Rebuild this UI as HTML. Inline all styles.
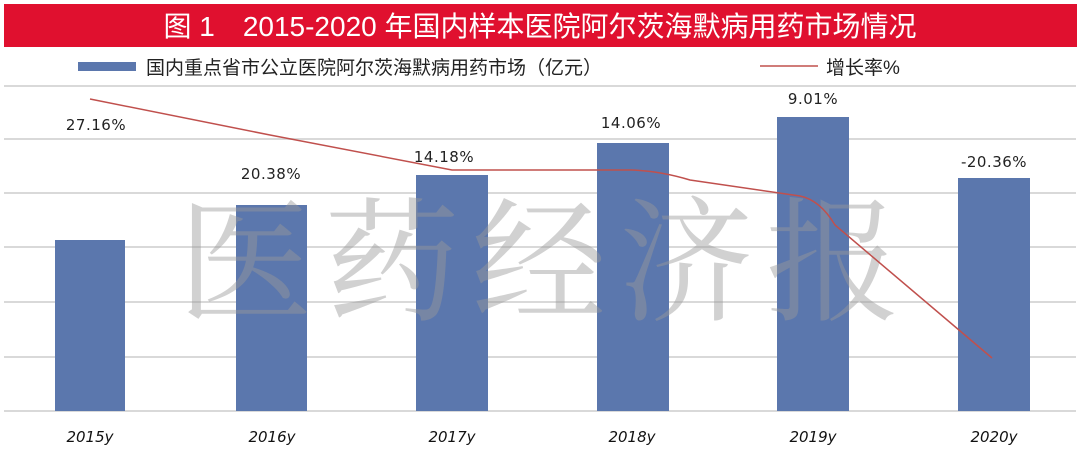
<!DOCTYPE html>
<html><head><meta charset="utf-8"><style>
body{margin:0;background:#fff;width:1080px;height:462px;overflow:hidden;}
</style></head><body>
<svg width="1080" height="462" viewBox="0 0 1080 462" xmlns="http://www.w3.org/2000/svg">
<rect x="4" y="4" width="1073" height="43" fill="#e0102f"/>
<text x="540" y="36" text-anchor="middle" fill="#fff" font-size="28" font-family="Liberation Sans, Noto Sans CJK SC, sans-serif">图 1　2015-2020 年国内样本医院阿尔茨海默病用药市场情况</text>
<rect x="78" y="62" width="58" height="9" fill="#5b77ad"/>
<text x="146" y="74" font-size="19" fill="#222" font-family="Liberation Sans, Noto Sans CJK SC, sans-serif">国内重点省市公立医院阿尔茨海默病用药市场（亿元）</text>
<line x1="760" y1="66" x2="818" y2="66" stroke="#c0504d" stroke-width="1.5"/>
<text x="826" y="74" font-size="19" fill="#222" font-family="Liberation Sans, Noto Sans CJK SC, sans-serif">增长率%</text>
<g stroke="#d9d9d9" stroke-width="2">
<line x1="4" y1="86" x2="1076" y2="86"/>
<line x1="4" y1="139" x2="1076" y2="139"/>
<line x1="4" y1="193" x2="1076" y2="193"/>
<line x1="4" y1="247" x2="1076" y2="247"/>
<line x1="4" y1="302" x2="1076" y2="302"/>
<line x1="4" y1="357" x2="1076" y2="357"/>
<line x1="4" y1="411" x2="1076" y2="411"/>
</g>
<g fill="#5b77ad">
<rect x="55" y="240" width="70" height="171"/>
<rect x="236" y="205" width="71" height="206"/>
<rect x="416" y="175" width="72" height="236"/>
<rect x="597" y="143" width="72" height="268"/>
<rect x="777" y="117" width="72" height="294"/>
<rect x="958" y="178" width="72" height="233"/>
</g>
<text x="545" y="310" text-anchor="middle" font-size="135" fill="#999" fill-opacity="0.45" font-family="Noto Serif CJK SC, serif" letter-spacing="12">医药经济报</text>
<path d="M90,99 L270,135 L452,170 L632,170 Q660,171 690,180 L800,196 Q820,200 835,225 L992,358" fill="none" stroke="#c0504d" stroke-width="1.5"/>
<g font-size="15" fill="#222" font-family="DejaVu Sans, sans-serif" text-anchor="middle" letter-spacing="0.5">
<text x="96" y="130">27.16%</text>
<text x="271" y="179">20.38%</text>
<text x="444" y="162">14.18%</text>
<text x="631" y="128">14.06%</text>
<text x="813" y="104">9.01%</text>
<text x="994" y="167">-20.36%</text>
</g>
<g font-size="15" fill="#111" font-style="italic" font-family="DejaVu Sans, sans-serif" text-anchor="middle">
<text x="90" y="442">2015y</text>
<text x="272" y="442">2016y</text>
<text x="452" y="442">2017y</text>
<text x="632" y="442">2018y</text>
<text x="813" y="442">2019y</text>
<text x="994" y="442">2020y</text>
</g>
</svg>
</body></html>
